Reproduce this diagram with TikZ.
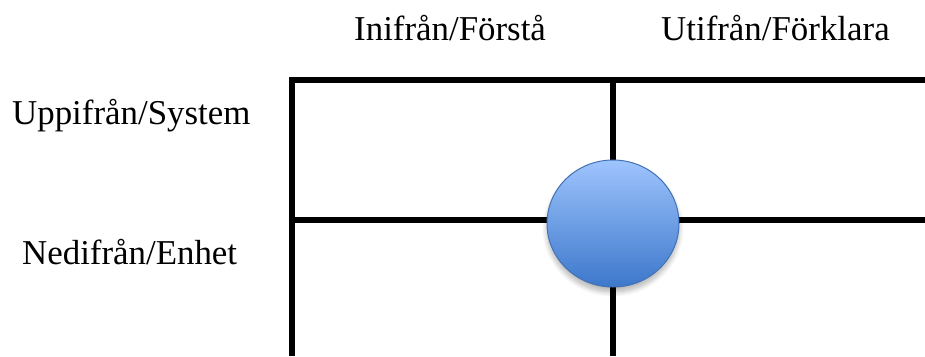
\documentclass[tikz,border=0pt]{standalone}
\usepackage{fontspec}
\setmainfont{Liberation Serif}
\usetikzlibrary{shapes.geometric,shadows.blur}
\definecolor{balltop}{HTML}{9EC4FD}
\definecolor{ballbot}{HTML}{3D78CB}
\definecolor{ballline}{HTML}{4272B4}
\tikzset{
  gridline/.style={line width=6bp, black, line join=miter, line cap=butt},
  lbl/.style={anchor=base west, inner sep=0pt, font=\fontsize{35}{41}\selectfont},
  ball/.style={ellipse, inner sep=0pt, minimum width=132bp, minimum height=127bp,
    top color=balltop, bottom color=ballbot, draw=ballline, line width=1bp,
    blur shadow={shadow xshift=0bp, shadow yshift=-5bp, shadow blur radius=5bp, shadow blur steps=10, shadow opacity=30}}
}
\begin{document}
\begin{tikzpicture}[x=1bp,y=1bp]
\useasboundingbox (0,0) rectangle (925,356);
% grid coordinates
\coordinate (lb) at (292,0);
\coordinate (lt) at (292,276.3);
\coordinate (rt) at (925,276.3);
\coordinate (mt) at (613,276.3);
\coordinate (mb) at (613,0);
\coordinate (ml) at (292,136.3);
\coordinate (mr) at (925,136.3);
\draw[gridline] (lb) -- (lt) -- (rt);
\draw[gridline] (mt) -- (mb);
\draw[gridline] (ml) -- (mr);
% ball
\node[ball] (b) at (613,132.5) {};
% labels
\node[lbl] (inne) at (354,316) {Inifrån/Förstå};
\node[lbl] (ute) at (661,316) {Utifrån/Förklara};
\node[lbl] (upp) at (12,232) {Uppifrån/System};
\node[lbl] (ned) at (22,92) {Nedifrån/Enhet};
\end{tikzpicture}
\end{document}
